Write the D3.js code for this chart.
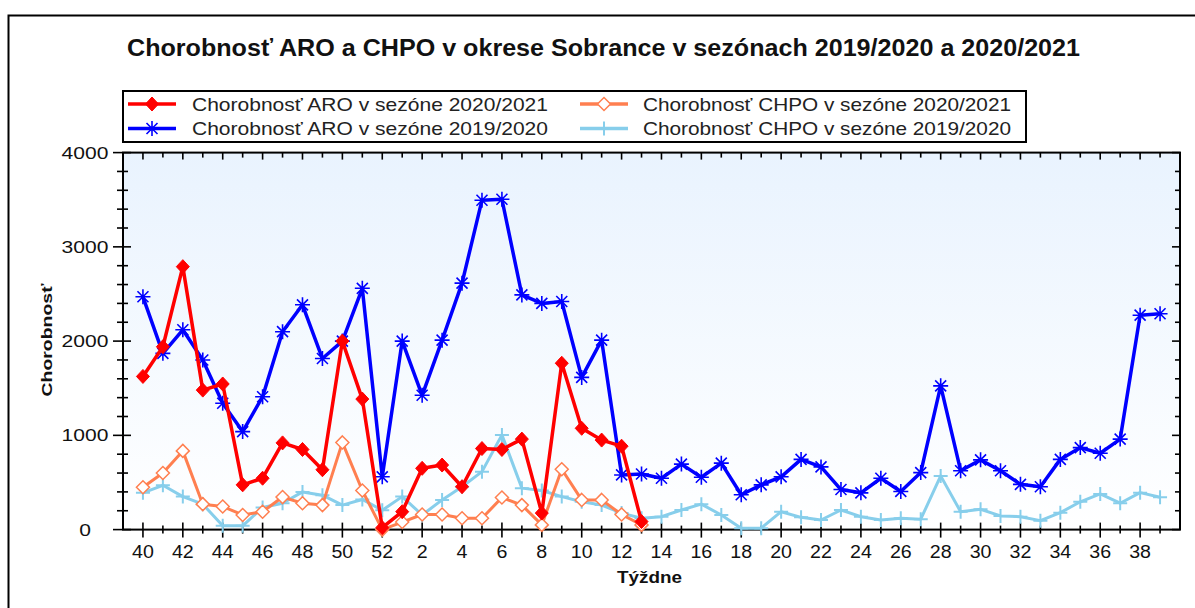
<!DOCTYPE html>
<html>
<head>
<meta charset="utf-8">
<script src="https://cdn.jsdelivr.net/npm/d3@7"></script>
<style>
  body { margin: 0; background: #fff; }
  svg { display: block; font-family: "Liberation Sans", Arial, sans-serif; }
</style>
</head>
<body>
<svg id="chart" width="1195" height="608"></svg>
<script>
// Week categories (season runs from week 40 to week 39)
const weeks = [40, 41, 42, 43, 44, 45, 46, 47, 48, 49, 50, 51, 52,
  1, 2, 3, 4, 5, 6, 7, 8, 9, 10, 11, 12, 13, 14, 15, 16, 17, 18, 19, 20,
  21, 22, 23, 24, 25, 26, 27, 28, 29, 30, 31, 32, 33, 34, 35, 36, 37, 38, 39];

// ARO 2020/2021 (weeks 40..13)
const aro2021 = [1625, 1940, 2790, 1480, 1545, 475, 545, 920, 850, 635, 2000, 1385, 20,
  190, 650, 685, 455, 860, 850, 960, 175, 1765, 1075, 950, 885, 85];
// CHPO 2020/2021 (weeks 40..13)
const chpo2021 = [450, 600, 835, 270, 245, 155, 190, 345, 280, 260, 925, 415, 0,
  80, 160, 160, 120, 120, 340, 260, 50, 640, 315, 315, 160, 50];
// ARO 2019/2020 (weeks 40..39)
const aro1920 = [2470, 1870, 2120, 1800, 1340, 1040, 1410, 2100, 2385, 1815, 2000, 2560, 560,
  2000, 1425, 2010, 2615, 3495, 3505, 2490, 2400, 2420, 1615, 2010, 580, 590,
  545, 695, 555, 705, 370, 475, 560, 745, 665, 425, 390, 545, 405, 605,
  1525, 625, 740, 625, 480, 455, 745, 870, 810, 960, 2275, 2290];
// CHPO 2019/2020 (weeks 40..39)
const chpo1920 = [390, 470, 350, 270, 40, 40, 235, 280, 400, 365, 260, 320, 205,
  350, 155, 315, 455, 615, 1005, 440, 415, 350, 295, 260, 175, 120,
  137, 208, 270, 155, 15, 15, 190, 130, 102, 208, 137, 102, 120, 110,
  570, 190, 215, 145, 137, 95, 180, 295, 378, 280, 392, 343];

const yTicks = [0, 1000, 2000, 3000, 4000];

const titleText = "Chorobnosť ARO a CHPO v okrese  Sobrance  v  sezónach 2019/2020 a  2020/2021";
const seriesNames = [
  "Chorobnosť ARO v sezóne 2020/2021",
  "Chorobnosť CHPO v sezóne 2020/2021",
  "Chorobnosť ARO v sezóne 2019/2020",
  "Chorobnosť CHPO v sezóne 2019/2020"
];

const svg = d3.select("#chart");

// plot area
const plotLeft = 123, plotRight = 1180, plotTop = 152.6, plotBottom = 529.6;
const x = d3.scaleLinear().domain([-1, weeks.length]).range([plotLeft, plotRight]);
const y = d3.scaleLinear().domain([0, 4000]).range([plotBottom, plotTop]);

// outer frame
svg.append("rect")
  .attr("x", 8.5).attr("y", 15.5)
  .attr("width", 1200).attr("height", 620)
  .attr("fill", "#fff").attr("stroke", "#000").attr("stroke-width", 2);

// title
svg.append("text")
  .attr("x", 127).attr("y", 55.5)
  .attr("font-size", 23).attr("font-weight", "bold")
  .attr("textLength", 953).attr("lengthAdjust", "spacingAndGlyphs")
  .attr("fill", "#111")
  .text(titleText);

// plot background gradient
const defs = svg.append("defs");
const grad = defs.append("linearGradient").attr("id", "bg")
  .attr("x1", 0).attr("y1", 0).attr("x2", 0).attr("y2", 1);
grad.append("stop").attr("offset", "0%").attr("stop-color", "#e9f3fe");
grad.append("stop").attr("offset", "100%").attr("stop-color", "#ffffff");

svg.append("rect")
  .attr("x", plotLeft).attr("y", plotTop)
  .attr("width", plotRight - plotLeft).attr("height", plotBottom - plotTop)
  .attr("fill", "url(#bg)");

// ticks
const tickG = svg.append("g").attr("stroke", "#000").attr("stroke-width", 1.6);
const minorY = d3.range(0, 4001, 200);
minorY.forEach(v => {
  const major = v % 1000 === 0;
  tickG.append("line")
    .attr("x1", major ? 113 : 117).attr("x2", major ? 131 : 128)
    .attr("y1", y(v)).attr("y2", y(v));
  tickG.append("line")
    .attr("x1", plotRight).attr("x2", plotRight - (major ? 8 : 5))
    .attr("y1", y(v)).attr("y2", y(v));
});
weeks.forEach((w, i) => {
  const major = w % 2 === 0;
  tickG.append("line")
    .attr("x1", x(i)).attr("x2", x(i))
    .attr("y1", plotBottom - (major ? 7 : 4)).attr("y2", plotBottom + (major ? 8 : 4));
  tickG.append("line")
    .attr("x1", x(i)).attr("x2", x(i))
    .attr("y1", plotTop).attr("y2", plotTop + (major ? 7 : 5));
});

// plot border
svg.append("rect")
  .attr("x", plotLeft).attr("y", plotTop)
  .attr("width", plotRight - plotLeft).attr("height", plotBottom - plotTop)
  .attr("fill", "none").attr("stroke", "#000").attr("stroke-width", 2);

// y labels
svg.append("g").selectAll("text").data(yTicks).enter().append("text")
  .attr("x", 85).attr("y", d => y(d) + 6)
  .attr("text-anchor", "middle")
  .attr("font-size", 16).attr("fill", "#111")
  .attr("textLength", d => String(d).length * 11.7)
  .attr("lengthAdjust", "spacingAndGlyphs")
  .text(d => d);

// x labels (even weeks)
svg.append("g").selectAll("text")
  .data(weeks.map((w, i) => ({ w, i })).filter(d => d.w % 2 === 0))
  .enter().append("text")
  .attr("x", d => x(d.i)).attr("y", 558)
  .attr("text-anchor", "middle")
  .attr("font-size", 17.5).attr("fill", "#111")
  .attr("textLength", d => String(d.w).length * 10.9)
  .attr("lengthAdjust", "spacingAndGlyphs")
  .text(d => d.w);

// axis titles
svg.append("text")
  .attr("x", 649.5).attr("y", 583)
  .attr("text-anchor", "middle")
  .attr("font-size", 16).attr("font-weight", "bold").attr("fill", "#111")
  .attr("textLength", 65).attr("lengthAdjust", "spacingAndGlyphs")
  .text("Týždne");

svg.append("text")
  .attr("transform", "translate(52,340) rotate(-90)")
  .attr("text-anchor", "middle")
  .attr("font-size", 15.5).attr("font-weight", "bold").attr("fill", "#111")
  .attr("textLength", 113).attr("lengthAdjust", "spacingAndGlyphs")
  .text("Chorobnosť");

// marker drawing
function drawMarker(g, kind, cx, cy) {
  if (kind === "diamond") {
    g.append("path")
      .attr("d", `M${cx},${cy - 7}L${cx + 6.5},${cy}L${cx},${cy + 7}L${cx - 6.5},${cy}Z`)
      .attr("fill", "#ff0000").attr("stroke", "#ff0000").attr("stroke-width", 1);
  } else if (kind === "hollow") {
    g.append("path")
      .attr("d", `M${cx},${cy - 6.5}L${cx + 6.5},${cy}L${cx},${cy + 6.5}L${cx - 6.5},${cy}Z`)
      .attr("fill", "#fff").attr("stroke", "#ff7f50").attr("stroke-width", 1.5);
  } else if (kind === "star") {
    const r = 7.5, d = 5.5;
    g.append("path")
      .attr("d", `M${cx - r},${cy}H${cx + r}M${cx},${cy - r}V${cy + r}` +
        `M${cx - d},${cy - d}L${cx + d},${cy + d}M${cx - d},${cy + d}L${cx + d},${cy - d}`)
      .attr("fill", "none").attr("stroke", "#0000ff").attr("stroke-width", 1.6);
  } else if (kind === "plus") {
    const r = 7;
    g.append("path")
      .attr("d", `M${cx - r},${cy}H${cx + r}M${cx},${cy - r}V${cy + r}`)
      .attr("fill", "none").attr("stroke", "#87ceeb").attr("stroke-width", 2);
  }
}

const series = [
  { data: chpo1920, color: "#87ceeb", width: 3, marker: "plus" },
  { data: chpo2021, color: "#ff7f50", width: 3, marker: "hollow" },
  { data: aro1920, color: "#0000ff", width: 3.5, marker: "star" },
  { data: aro2021, color: "#ff0000", width: 3.5, marker: "diamond" }
];

const line = d3.line().x((d, i) => x(i)).y(d => y(d));

series.forEach(s => {
  const g = svg.append("g");
  g.append("path")
    .datum(s.data)
    .attr("d", line)
    .attr("fill", "none")
    .attr("stroke", s.color)
    .attr("stroke-width", s.width)
    .attr("stroke-linejoin", "round");
  s.data.forEach((v, i) => drawMarker(g, s.marker, x(i), y(v)));
});

// legend
const legend = svg.append("g");
legend.append("rect")
  .attr("x", 123).attr("y", 91)
  .attr("width", 903).attr("height", 51)
  .attr("fill", "#fff").attr("stroke", "#000").attr("stroke-width", 2);

const legendItems = [
  { name: seriesNames[0], color: "#ff0000", marker: "diamond", lx: 128, ly: 104, tx: 192, tw: 356 },
  { name: seriesNames[1], color: "#ff7f50", marker: "hollow", lx: 580, ly: 104, tx: 643, tw: 368 },
  { name: seriesNames[2], color: "#0000ff", marker: "star", lx: 128, ly: 128.5, tx: 192, tw: 356 },
  { name: seriesNames[3], color: "#87ceeb", marker: "plus", lx: 580, ly: 128.5, tx: 643, tw: 368 }
];

legendItems.forEach(it => {
  legend.append("line")
    .attr("x1", it.lx).attr("x2", it.lx + 48)
    .attr("y1", it.ly).attr("y2", it.ly)
    .attr("stroke", it.color).attr("stroke-width", 3.5);
  drawMarker(legend, it.marker, it.lx + 24, it.ly);
  legend.append("text")
    .attr("x", it.tx).attr("y", it.ly + 6.5)
    .attr("font-size", 18.5).attr("fill", "#222")
    .attr("textLength", it.tw).attr("lengthAdjust", "spacingAndGlyphs")
    .text(it.name);
});
</script>
</body>
</html>
